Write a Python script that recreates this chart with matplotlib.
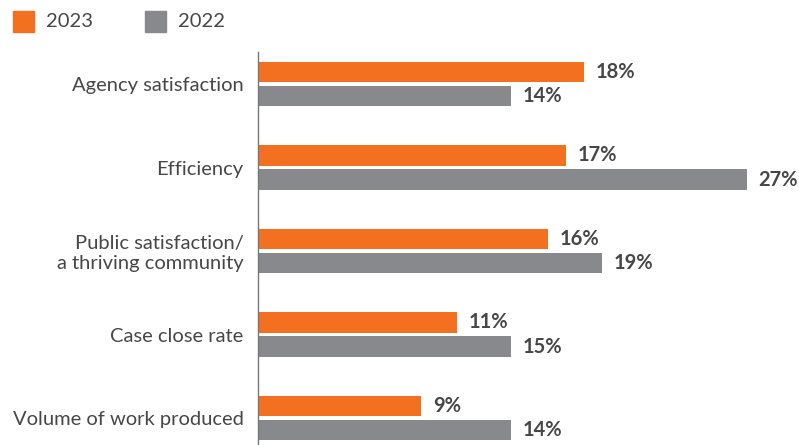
import numpy as np
import matplotlib.pyplot as plt
from matplotlib.patches import Rectangle

categories = ['Agency satisfaction', 'Efficiency', 'Public satisfaction/\na thriving community',
              'Case close rate', 'Volume of work produced']
# bar lengths as drawn in the source chart
vals_2023 = [18, 17, 16, 11, 9]
vals_2022 = [14, 27, 19, 14, 14]
# printed labels (the case close 2022 bar is drawn at ~14 but labelled 15%)
labels_2023 = ['18%', '17%', '16%', '11%', '9%']
labels_2022 = ['14%', '27%', '19%', '15%', '14%']

ORANGE = '#F37021'
GRAY = '#88898D'
TXT = '#474747'

plt.rcParams['font.family'] = ['Lato', 'DejaVu Sans']

W, H = 799, 445
fig = plt.figure(figsize=(W / 100, H / 100), dpi=100)
ax = fig.add_axes([258 / W, 0, (W - 258) / W, (H - 52) / H])

y = np.arange(len(categories))
off = 0.144
h = 0.25
ax.barh(y - off, vals_2023, height=h, color=ORANGE)
ax.barh(y + off, vals_2022, height=h, color=GRAY)

for yi, v, t in zip(y - off, vals_2023, labels_2023):
    ax.text(v + 0.65, yi, t, va='center', ha='left', fontsize=14.5,
            fontweight='bold', color=TXT)
for yi, v, t in zip(y + off, vals_2022, labels_2022):
    ax.text(v + 0.65, yi, t, va='center', ha='left', fontsize=14.5,
            fontweight='bold', color=TXT)

ax.set_xlim(0, (W - 258) / 18.1)
ax.set_ylim(4 + 27 / 83.5, -32 / 83.5)
ax.set_yticks(y)
ax.set_yticklabels(categories, fontsize=14.5, color=TXT, linespacing=1.2)
ax.tick_params(axis='y', length=0, pad=10.5)
ax.set_xticks([])
for s in ['top', 'right', 'bottom']:
    ax.spines[s].set_visible(False)
ax.spines['left'].set_color('#777777')
ax.spines['left'].set_linewidth(1)
for lbl in ax.get_yticklabels():
    lbl.set_horizontalalignment('right')

# legend
for x0, col, name in [(13, ORANGE, '2023'), (145, GRAY, '2022')]:
    fig.patches.append(Rectangle((x0 / W, (H - 32) / H), 21 / W, 21 / H,
                                 transform=fig.transFigure, color=col))
    fig.text((x0 + 33) / W, (H - 21.5) / H, name, fontsize=14.5, color=TXT,
             va='center', ha='left')

fig.savefig('out.png', dpi=100)
